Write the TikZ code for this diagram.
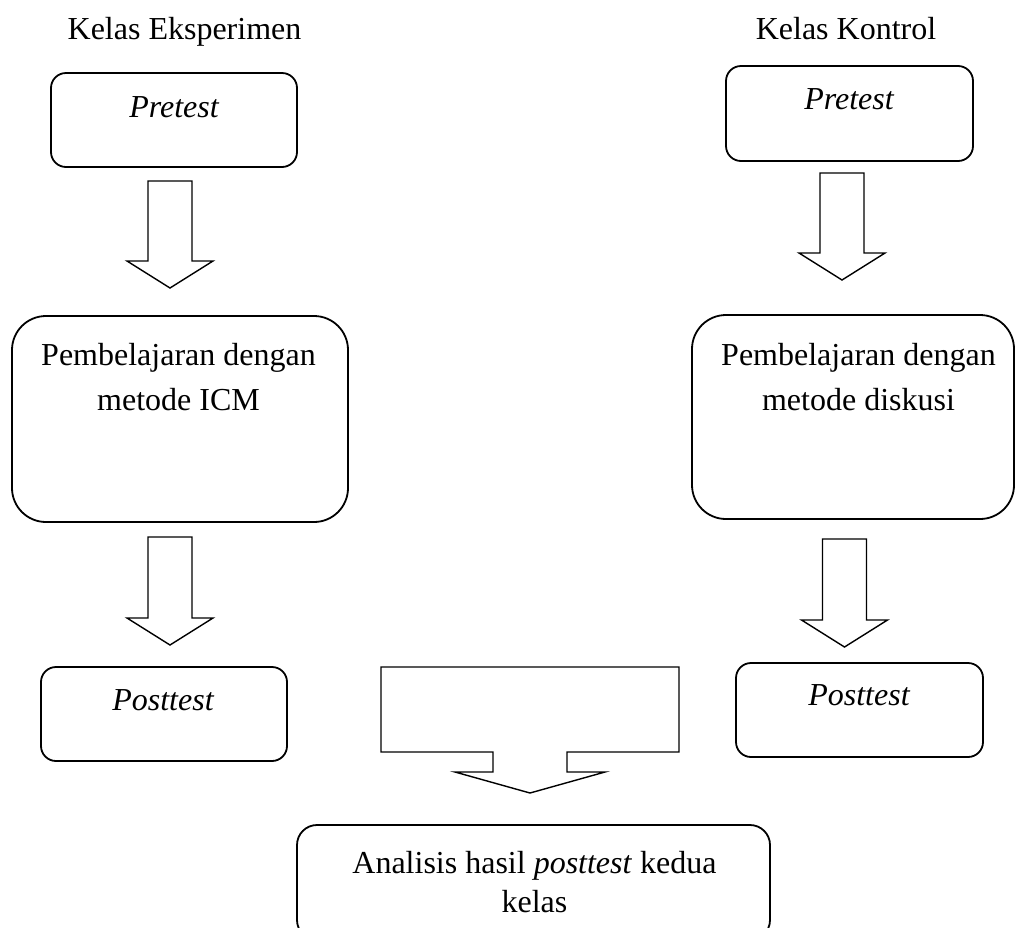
\documentclass[tikz,border=0pt]{standalone}
\usepackage{fontspec}
\setmainfont{Liberation Serif}
\usetikzlibrary{calc}
\begin{document}
\begin{tikzpicture}[x=1pt,y=-1pt,line width=1.4pt,
			box/.style={draw,line width=1.8pt,rounded corners=15pt,inner sep=0pt},
			big box/.style={box,rounded corners=34pt},
			txt/.style={inner sep=0pt,font=\fontsize{32}{45}\selectfont,align=center},
			fat/.style={line join=miter,to path={let \p1=(\tikztostart),\p2=(\tikztotarget) in
				(\x1-22pt,\y1) -- (\x1+22pt,\y1) -- (\x1+22pt,\y2+27pt) -- (\x1+43pt,\y2+27pt)
				-- (\x1,\y2) -- (\x1-43pt,\y2+27pt) -- (\x1-22pt,\y2+27pt) -- cycle}}]
			\useasboundingbox (0,0) rectangle (1016,927);
			
			\node[txt,anchor=base] (judulE) at (184.5,39) {Kelas Eksperimen};
			\node[txt,anchor=base] (judulK) at (846,39) {Kelas Kontrol};
			
			\node[box,minimum width=246pt,minimum height=94pt] (preE) at (174,120) {};
			\node[box,minimum width=247pt,minimum height=95pt] (preK) at (849.5,113.5) {};
			\node[big box,minimum width=336pt,minimum height=206pt] (belE) at (180,419) {};
			\node[big box,minimum width=322pt,minimum height=204pt] (belK) at (853,417) {};
			\node[box,minimum width=246pt,minimum height=94pt] (postE) at (164,714) {};
			\node[box,minimum width=247pt,minimum height=94pt] (postK) at (859.5,710) {};
			\node[box,rounded corners=20pt,minimum width=473pt,minimum height=115pt] (anl) at (533.5,882.5) {};
			
			\node[txt,anchor=base] at (174,117) {\itshape Pretest};
			\node[txt,anchor=base] at (849,109) {\itshape Pretest};
			\node[txt,anchor=north] at (178.5,343) {Pembelajaran dengan\\metode ICM};
			\node[txt,anchor=north] at (858.5,343) {Pembelajaran dengan\\metode diskusi};
			\node[txt,anchor=base] at (163,710) {\itshape Posttest};
			\node[txt,anchor=base] at (859,705) {\itshape Posttest};
			\node[txt,anchor=north,font=\fontsize{32}{39}\selectfont] at (534.5,851) {Analisis hasil \textit{posttest} kedua\\kelas};
			
			\coordinate (e1a) at (170,181);   \coordinate (e1b) at (170,288);
			\coordinate (e2a) at (170,537);   \coordinate (e2b) at (170,645);
			\coordinate (k1a) at (842,173);   \coordinate (k1b) at (842,280);
			\coordinate (k2a) at (844.5,539); \coordinate (k2b) at (844.5,647);
			
			\path (e1a) edge[fat] (e1b)
			(e2a) edge[fat] (e2b)
			(k1a) edge[fat] (k1b)
			(k2a) edge[fat] (k2b);
			
			\draw (381,667) -- (679,667) -- (679,752) -- (567,752) -- (567,772) -- (605,772)
			-- (530,793) -- (455,772) -- (493,772) -- (493,752) -- (381,752) -- cycle;
\end{tikzpicture}
\end{document}
